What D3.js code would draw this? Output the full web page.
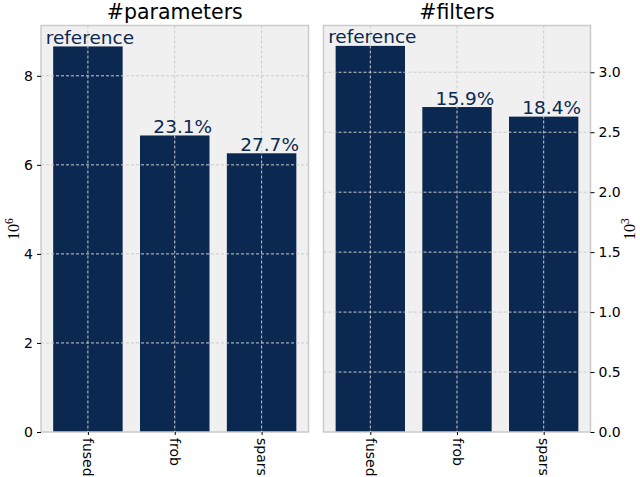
<!DOCTYPE html>
<html>
<head>
<meta charset="utf-8">
<script src="https://cdn.jsdelivr.net/npm/d3@7"></script>
<style>
html,body{margin:0;padding:0;background:#fff;}
svg{display:block;}
</style>
</head>
<body>
<svg id="chart" width="640" height="477"></svg>
<script>
const categories = ["fused", "frob", "spars"];
const paramValues = [8.66, 6.66, 6.26];          // x10^6
const paramLabels = ["reference", "23.1%", "27.7%"];
const paramTicks = [0, 2, 4, 6, 8];
const filterValues = [3.22, 2.71, 2.63];        // x10^3
const filterLabels = ["reference", "15.9%", "18.4%"];
const filterTicks = [0, 0.5, 1.0, 1.5, 2.0, 2.5, 3.0];

const svg = d3.select("#chart");
const barColor = "#0b2850";
const font = "DejaVu Sans, sans-serif";

function panel(opts) {
  const {x0, x1, y0, y1, values, labels, ticks, yMax, title, side, tickFmt, exp, expX} = opts;
  const g = svg.append("g");
  const x = d3.scaleLinear().domain([-0.54, 2.54]).range([x0, x1]);
  const y = d3.scaleLinear().domain([0, yMax]).range([y1, y0]);
  const bw = x(0.4) - x(-0.4);

  g.append("rect").attr("x", x0).attr("y", y0).attr("width", x1 - x0).attr("height", y1 - y0)
    .attr("fill", "#f0f0f0");

  g.selectAll("rect.bar").data(values).enter().append("rect").attr("class", "bar")
    .attr("x", (d, i) => x(i) - bw / 2).attr("width", bw)
    .attr("y", d => y(d)).attr("height", d => y(0) - y(d))
    .attr("fill", barColor);

  // grid
  g.selectAll("line.hg").data(ticks.filter(t => t > 0)).enter().append("line")
    .attr("x1", x0).attr("x2", x1).attr("y1", d => y(d)).attr("y2", d => y(d))
    .attr("stroke", "#cbcbcb").attr("stroke-width", 1).attr("stroke-dasharray", "3,2");
  g.selectAll("line.vg").data(categories).enter().append("line")
    .attr("x1", (d, i) => x(i)).attr("x2", (d, i) => x(i)).attr("y1", y0).attr("y2", y1)
    .attr("stroke", "#cbcbcb").attr("stroke-width", 1).attr("stroke-dasharray", "3,2");

  // frame
  g.append("rect").attr("x", x0).attr("y", y0).attr("width", x1 - x0).attr("height", y1 - y0)
    .attr("fill", "none").attr("stroke", "#cbcbcb").attr("stroke-width", 1.5);

  // y axis
  const axis = side === "left" ? d3.axisLeft(y) : d3.axisRight(y);
  axis.tickValues(ticks).tickFormat(tickFmt).tickSize(4).tickPadding(4);
  const ag = g.append("g").attr("transform", `translate(${side === "left" ? x0 : x1},0)`).call(axis);
  ag.select(".domain").remove();
  ag.selectAll(".tick line").attr("stroke", "#000").attr("stroke-width", 1);
  ag.selectAll(".tick text").attr("font-family", font).attr("font-size", 14).attr("fill", "#000");

  // x axis
  const xa = d3.axisBottom(x).tickValues([0, 1, 2]).tickFormat((d) => categories[d]).tickSize(3).tickPadding(4);
  const xg = g.append("g").attr("transform", `translate(0,${y1})`).call(xa);
  xg.select(".domain").remove();
  xg.selectAll(".tick line").attr("stroke", "#000");
  xg.selectAll(".tick text").attr("font-family", font).attr("font-size", 14).attr("fill", "#000")
    .attr("transform", "rotate(90)").attr("text-anchor", "start").attr("dy", "0.35em").attr("x", 6).attr("y", 0);

  // bar labels
  g.selectAll("text.bl").data(labels).enter().append("text")
    .attr("x", (d, i) => x(i) + (i === 0 ? 2 : 8))
    .attr("y", (d, i) => y(values[i]) - 2.5)
    .attr("text-anchor", "middle").attr("font-family", font).attr("font-size", 18.5)
    .attr("fill", barColor).text(d => d);

  // title
  g.append("text").attr("x", (x0 + x1) / 2).attr("y", 19).attr("text-anchor", "middle")
    .attr("font-family", font).attr("font-size", 20.5).attr("fill", "#000").text(title);

  // exponent label
  const t = g.append("text").attr("transform", `translate(${expX},229) rotate(-90)`)
    .attr("text-anchor", "middle").attr("font-family", "Liberation Serif, DejaVu Serif, serif").attr("font-size", 16)
    .attr("dy", "0.35em").attr("fill", "#000");
  t.append("tspan").text("10");
  t.append("tspan").attr("dy", "-0.45em").attr("font-size", 11.5).text(exp);
}

panel({x0: 41, x1: 308.5, y0: 25.5, y1: 432, values: paramValues, labels: paramLabels,
  ticks: paramTicks, yMax: 9.13, title: "#parameters", side: "left",
  tickFmt: d3.format("d"), exp: "6", expX: 13});
panel({x0: 323.5, x1: 590.5, y0: 25.5, y1: 432, values: filterValues, labels: filterLabels,
  ticks: filterTicks, yMax: 3.39, title: "#filters", side: "right",
  tickFmt: d3.format(".1f"), exp: "3", expX: 629});
</script>
</body>
</html>
